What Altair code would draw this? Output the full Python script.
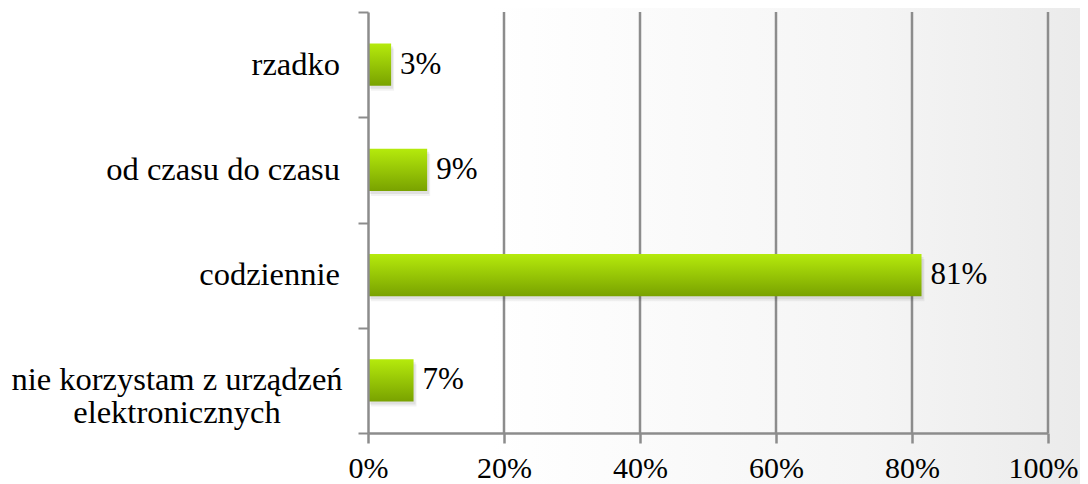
import altair as alt
import pandas as pd

categories = ["rzadko", "od czasu do czasu", "codziennie",
              "nie korzystam z urządzeń|elektronicznych"]
values = [3.4, 8.7, 81.4, 6.7]
labels = ["3%", "9%", "81%", "7%"]
x_ticks = [0, 20, 40, 60, 80, 100]
grid_ticks = [20, 40, 60, 80, 100]

W, H = 680, 421
PAD = {"left": 360, "top": 4, "right": 32, "bottom": 51}
FONT = "Liberation Serif, Times New Roman, serif"
GRAY = "#8c8c8c"

df = pd.DataFrame({"cat": categories, "val": values, "lab": labels})
grid_df = pd.DataFrame({"g": grid_ticks})
bg_df = pd.DataFrame({"a": [0]})

x_scale = alt.Scale(domain=[0, 100], nice=False)
y_scale = alt.Scale(paddingInner=0, paddingOuter=0)

x_axis = alt.Axis(
    zindex=1, grid=False, values=x_ticks, domainColor=GRAY, domainWidth=2.5,
    tickColor=GRAY, tickSize=10, tickWidth=2.5,
    labelFont=FONT, labelFontSize=30, labelColor="#000000",
    labelExpr="datum.value + '%'", labelPadding=10, labelFlush=False,
    labelOffset={"condition": {"test": "datum.value == 100", "value": -5}, "value": 0},
)
y_axis = alt.Axis(
    zindex=1, grid=False, labels=False, domainColor=GRAY, domainWidth=2.5,
    tickBand="extent", tickColor=GRAY, tickSize=10, tickWidth=2,
)

bg = alt.Chart(bg_df).mark_rect(
    fill={"gradient": "linear", "x1": 0, "y1": 0, "x2": 1, "y2": 0,
          "stops": [{"offset": 0, "color": "#ffffff"},
                    {"offset": 0.45, "color": "#ffffff"},
                    {"offset": 0.8, "color": "#f5f5f5"},
                    {"offset": 1, "color": "#ebebeb"}]},
).encode(
    x=alt.value(-PAD["left"]), x2=alt.value(W + PAD["right"]),
    y=alt.value(-PAD["top"]), y2=alt.value(H + PAD["bottom"]),
)

grid = alt.Chart(grid_df).mark_rule(color=GRAY, strokeWidth=2.5).encode(
    x=alt.X("g:Q", scale=x_scale, title=None, axis=x_axis)
)

y_enc = alt.Y("cat:N", sort=categories, scale=y_scale, title=None, axis=y_axis)
x_enc = alt.X("val:Q", scale=x_scale, title=None, axis=x_axis)

BAND = alt.RelativeBandSize(0.4)

shadow1 = alt.Chart(df).mark_bar(
    color="#000000", opacity=0.07, xOffset=2, yOffset=3, height=BAND
).encode(x=x_enc, y=y_enc)
shadow2 = alt.Chart(df).mark_bar(
    color="#000000", opacity=0.05, xOffset=3, yOffset=5, height=BAND
).encode(x=x_enc, y=y_enc)

bars = alt.Chart(df).mark_bar(
    height=BAND,
    fill={"gradient": "linear", "x1": 0, "y1": 0, "x2": 0, "y2": 1,
          "stops": [{"offset": 0, "color": "#b5ea0c"},
                    {"offset": 1, "color": "#79a200"}]},
).encode(x=x_enc, y=y_enc)

text = alt.Chart(df).mark_text(
    align="left", baseline="middle", dx=9, dy=0, font=FONT, fontSize=31, color="#000000"
).encode(x=x_enc, y=y_enc, text="lab:N")

cat_single = alt.Chart(df).transform_filter(
    "indexof(datum.cat, '|') < 0"
).mark_text(
    align="right", baseline="middle", font=FONT, fontSize=32.5, color="#000000"
).encode(x=alt.value(-28), y=y_enc, text="cat:N")

cat_multi = alt.Chart(df).transform_filter(
    "indexof(datum.cat, '|') >= 0"
).mark_text(
    align="center", baseline="middle", font=FONT, fontSize=32.5, color="#000000",
    lineBreak="|", lineHeight=33,
).encode(x=alt.value(-191), y=y_enc, text="cat:N")

chart = alt.layer(bg, grid, shadow2, shadow1, bars, text, cat_single, cat_multi).properties(
    width=W, height=H,
    autosize=alt.AutoSizeParams(type="none"),
    padding=PAD,
).configure_view(stroke=None).configure(background="#ffffff")

chart.save("out.html", embed_options={"renderer": "svg", "actions": False})
